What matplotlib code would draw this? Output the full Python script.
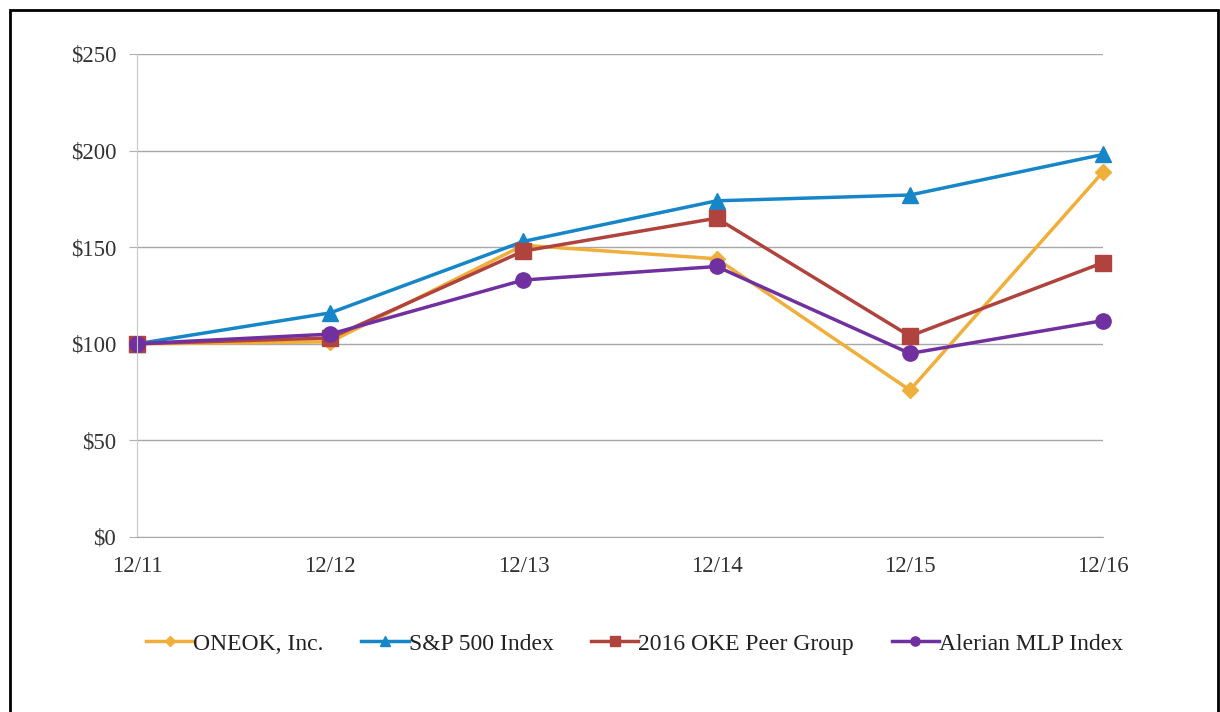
import matplotlib.pyplot as plt
from matplotlib.patches import Rectangle
from matplotlib.ticker import FuncFormatter

# datos
periodos = ['12/11', '12/12', '12/13', '12/14', '12/15', '12/16']
oneok = [100, 101, 151, 144, 76, 189]
sp500 = [100, 116, 153, 174, 177, 198]
peer = [100, 103, 148, 165, 104, 142]
alerian = [100, 105, 133, 140, 95, 112]

plt.rcParams['font.family'] = ['Liberation Serif', 'DejaVu Serif']

fig = plt.figure(figsize=(12.2, 7.12), dpi=100)
ax = fig.add_axes([0.1123, 0.2458, 0.7919, 0.6784])

x = list(range(len(periodos)))
ax.plot(x, oneok, color='#F0AE3A', marker='D', markersize=8, linewidth=2.5, label='ONEOK, Inc.', clip_on=False)
ax.plot(x, sp500, color='#1786C8', marker='^', markersize=12, linewidth=2.5, label='S&P 500 Index', clip_on=False)
ax.plot(x, peer, color='#B0433D', marker='s', markersize=11, linewidth=2.5, label='2016 OKE Peer Group', clip_on=False)
ax.plot(x, alerian, color='#7030A0', marker='o', markersize=11, linewidth=2.5, label='Alerian MLP Index', clip_on=False)

ax.set_xlim(0, 5)
ax.set_ylim(0, 250)
ax.set_xticks(x)
ax.set_xticklabels(periodos)
ax.set_yticks([0, 50, 100, 150, 200, 250])
ax.yaxis.set_major_formatter(FuncFormatter(lambda v, p: '$%d' % v))
ax.tick_params(axis='both', labelsize=16.5, colors='#333333', length=0)
ax.tick_params(axis='x', pad=14)
ax.tick_params(axis='y', length=6, color='#b0b0b0', pad=9)

ax.grid(axis='y', color='#a8a8a8', linewidth=1)
ax.set_axisbelow(True)
for s in ['top', 'right']:
    ax.spines[s].set_visible(False)
ax.spines['left'].set_color('#c8c8c8')
ax.spines['bottom'].set_color('#a8a8a8')

leg = ax.legend(loc='upper center', bbox_to_anchor=(0.515, -0.155), ncol=4, frameon=False,
                fontsize=17, handlelength=2.0, handletextpad=0.0, columnspacing=1.6,
                markerscale=0.6)
for t in leg.get_texts():
    t.set_color('#222222')

# marco exterior
fig.patches.append(Rectangle((0.008, -0.01), 0.99, 0.996, transform=fig.transFigure,
                             fill=False, edgecolor='black', linewidth=2))

fig.savefig('out.png', dpi=100)
